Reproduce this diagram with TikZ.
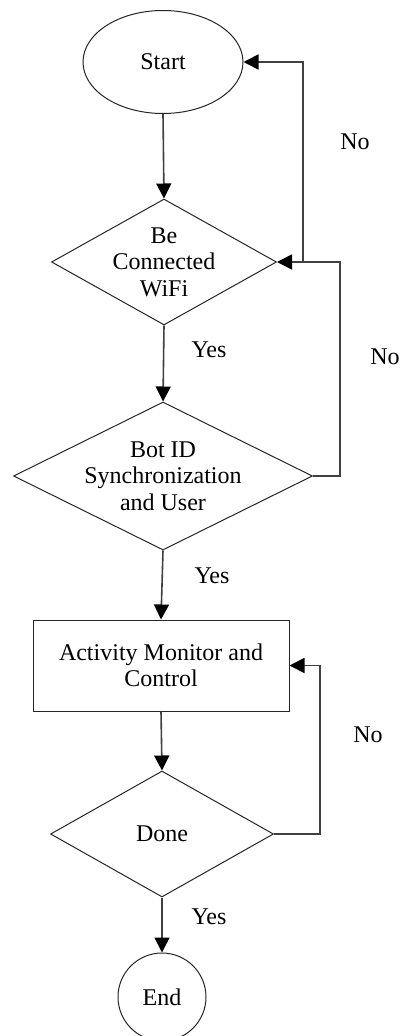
\documentclass[tikz,border=0pt]{standalone}
\usepackage{fontspec}
\setmainfont{Liberation Serif}
\usetikzlibrary{shapes.geometric,arrows.meta}
\begin{document}
\begin{tikzpicture}[x=1pt,y=-1pt,
  txt/.style={font=\fontsize{24}{26.5}\selectfont, align=center, inner sep=0pt},
  shp/.style={draw=black!85, line width=1pt, fill=white},
  dia/.style={shp, diamond, inner sep=0pt},
  conn/.style={draw=black!75, line width=1.6pt},
  arr/.style={conn, -{Triangle[length=15pt,width=15pt,color=black]}}]
\useasboundingbox (0,0) rectangle (399,1036);
% shapes
\node[shp, ellipse, minimum width=160pt, minimum height=103pt, inner sep=0pt] (start) at (163,62) {};
\node[txt] (startt) at (start) {Start};
\node[dia, minimum width=225pt, minimum height=126pt] (d1) at (164,262) {};
\node[txt] (d1t) at (d1) {Be\\Connected\\WiFi};
\node[dia, minimum width=299pt, minimum height=148pt] (d2) at (163,476) {};
\node[txt] (d2t) at (d2) {Bot ID\\Synchronization\\and User};
\node[shp, rectangle, minimum width=256pt, minimum height=91pt, inner sep=0pt] (act) at (161,665.5) {};
\node[txt] (actt) at (act) {Activity Monitor and\\Control};
\node[dia, minimum width=223pt, minimum height=126pt] (done) at (162,834) {};
\node[txt] (donet) at (done) {Done};
\node[shp, circle, minimum size=88pt, inner sep=0pt] (end) at (162,997) {};
\node[txt] (endt) at (end) {End};
% helper coordinates
\coordinate (k1) at (303,262);
\coordinate (k2) at (340,262);
\coordinate (k3) at (320,665.5);
% main flow
\draw[arr] (start.south) -- (d1.north);
\draw[arr] (d1.south) -- (d2.north);
\draw[arr] (d2.south) -- (act.north);
\draw[arr] (act.south) -- (done.north);
\draw[arr] (done.south) -- (end.north);
% loops
\draw[arr] (k1) |- (start.east);
\draw[arr] (d2.east) -| (k2) -- (d1.east);
\draw[arr] (done.east) -| (k3) -- (act.east);
% labels
\node[txt] (no1) at (355,142) {No};
\node[txt] (no2) at (385,357) {No};
\node[txt] (no3) at (368,735) {No};
\node[txt] (yes1) at (209,350) {Yes};
\node[txt] (yes2) at (212,576) {Yes};
\node[txt] (yes3) at (209,917) {Yes};
\end{tikzpicture}
\end{document}
